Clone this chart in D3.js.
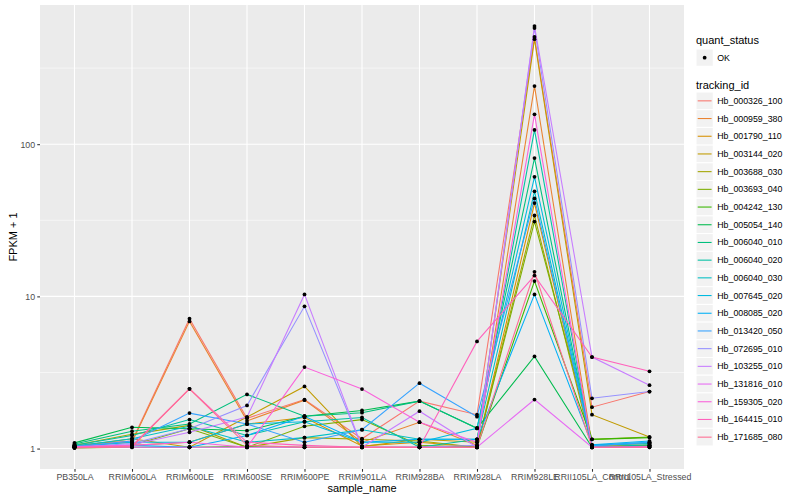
<!DOCTYPE html>
<html>
<head>
<meta charset="utf-8">
<script src="https://cdn.jsdelivr.net/npm/d3@7"></script>
<style>
  body { margin: 0; background: #fff; }
  svg text { font-family: "Liberation Sans", Arial, sans-serif; }
</style>
</head>
<body>
<div id="container"></div>
<script>
// samples on the x axis
const samples = ["PB350LA", "RRIM600LA", "RRIM600LE", "RRIM600SE", "RRIM600PE", "RRIM901LA",
  "RRIM928BA", "RRIM928LA", "RRIM928LE", "RRII105LA_Control", "RRII105LA_Stressed"];

// genes (tracking_id)
const trackingIds = ["Hb_000326_100", "Hb_000959_380", "Hb_001790_110", "Hb_003144_020",
  "Hb_003688_030", "Hb_003693_040", "Hb_004242_130", "Hb_005054_140", "Hb_006040_010",
  "Hb_006040_020", "Hb_006040_030", "Hb_007645_020", "Hb_008085_020", "Hb_013420_050",
  "Hb_072695_010", "Hb_103255_010", "Hb_131816_010", "Hb_159305_020", "Hb_164415_010",
  "Hb_171685_080"];

// FPKM + 1, one row per gene, one value per sample
const fpkm = [
  [1.06, 1.12, 7.13, 1.58, 2.10, 1.16, 2.05, 1.67, 506, 1.87, 2.37],
  [1.04, 1.10, 6.85, 1.52, 2.08, 1.10, 1.49, 1.05, 241, 1.05, 1.08],
  [1.02, 1.05, 1.10, 1.45, 1.60, 1.04, 1.10, 1.02, 41, 1.04, 1.05],
  [1.03, 1.16, 1.02, 1.61, 2.56, 1.03, 1.15, 1.10, 490, 1.67, 1.19],
  [1.05, 1.24, 1.42, 1.02, 1.18, 1.15, 1.12, 1.02, 34, 1.02, 1.05],
  [1.02, 1.05, 1.35, 1.02, 1.40, 1.55, 1.05, 1.02, 31, 1.15, 1.19],
  [1.01, 1.02, 1.02, 1.03, 1.02, 1.02, 1.02, 1.02, 12.6, 1.15, 1.18],
  [1.09, 1.38, 1.35, 1.31, 1.63, 1.78, 2.05, 1.36, 4.03, 1.02, 1.03],
  [1.07, 1.30, 1.45, 2.27, 1.63, 1.72, 2.05, 1.36, 81, 1.02, 1.04],
  [1.05, 1.22, 1.55, 1.22, 1.50, 1.60, 1.02, 1.15, 124, 1.02, 1.06],
  [1.04, 1.16, 1.40, 1.10, 1.18, 1.33, 1.15, 1.15, 49, 1.05, 1.08],
  [1.03, 1.10, 1.10, 1.45, 1.50, 1.10, 1.10, 1.36, 61, 1.05, 1.10],
  [1.02, 1.05, 1.02, 1.22, 1.63, 1.10, 1.15, 1.15, 10.3, 1.06, 1.12],
  [1.03, 1.12, 1.71, 1.45, 1.10, 1.33, 2.69, 1.62, 44, 1.04, 1.10],
  [1.02, 1.08, 1.35, 1.92, 8.6, 1.02, 1.02, 1.05, 580, 2.14, 2.37],
  [1.02, 1.06, 1.28, 1.61, 10.3, 1.02, 1.76, 1.02, 597, 3.99, 2.61],
  [1.02, 1.02, 1.02, 1.02, 1.02, 1.02, 1.02, 1.02, 2.1, 1.02, 1.02],
  [1.03, 1.05, 1.10, 1.02, 3.43, 2.46, 1.49, 1.10, 157, 1.02, 1.03],
  [1.02, 1.04, 2.47, 1.10, 1.05, 1.02, 1.02, 5.06, 13.7, 3.99, 3.22],
  [1.01, 1.03, 2.47, 1.05, 1.02, 1.02, 1.02, 1.02, 14.5, 1.02, 1.02]
];

const yTicks = [1, 10, 100];
const yMinor = [Math.sqrt(10), Math.sqrt(1000), Math.sqrt(100000)];

// ggplot hue palette
const colors = ["#F8766D", "#EA8331", "#D89000", "#C09B00", "#A3A500", "#7CAE00", "#39B600",
  "#00BB4E", "#00BF7D", "#00C1A3", "#00BFC4", "#00BAE0", "#00B0F6", "#35A2FF", "#9590FF",
  "#C77CFF", "#E76BF3", "#FA62DB", "#FF62BC", "#FF6C91"];

const width = 800, height = 500;
const panel = {left: 40, right: 684, top: 5, bottom: 469};

const svg = d3.select("#container").append("svg")
  .attr("width", width)
  .attr("height", height);

const x = d3.scalePoint()
  .domain(samples)
  .range([panel.left, panel.right])
  .padding(0.6);

// log scale with 5% expansion like ggplot
const allVals = fpkm.flat();
const lo = Math.log10(d3.min(allVals)), hi = Math.log10(d3.max(allVals));
const pad = (hi - lo) * 0.05;
const y = d3.scaleLog()
  .domain([Math.pow(10, lo - pad), Math.pow(10, hi + pad)])
  .range([panel.bottom, panel.top]);

// panel background
svg.append("rect")
  .attr("x", panel.left).attr("y", panel.top)
  .attr("width", panel.right - panel.left).attr("height", panel.bottom - panel.top)
  .attr("fill", "#EBEBEB");

// grid
svg.append("g").selectAll("line").data(yMinor).join("line")
  .attr("x1", panel.left).attr("x2", panel.right)
  .attr("y1", d => y(d)).attr("y2", d => y(d))
  .attr("stroke", "#fff").attr("stroke-width", 0.55);
svg.append("g").selectAll("line").data(yTicks).join("line")
  .attr("x1", panel.left).attr("x2", panel.right)
  .attr("y1", d => y(d)).attr("y2", d => y(d))
  .attr("stroke", "#fff").attr("stroke-width", 1.1);
svg.append("g").selectAll("line").data(samples).join("line")
  .attr("x1", d => x(d)).attr("x2", d => x(d))
  .attr("y1", panel.top).attr("y2", panel.bottom)
  .attr("stroke", "#fff").attr("stroke-width", 1.1);

// lines
const line = d3.line()
  .x((d, i) => x(samples[i]))
  .y(d => y(d));

svg.append("g").selectAll("path").data(fpkm).join("path")
  .attr("d", d => line(d))
  .attr("fill", "none")
  .attr("stroke", (d, i) => colors[i])
  .attr("stroke-width", 1.07);

// points
const pts = [];
fpkm.forEach((row, g) => row.forEach((v, s) => pts.push({g: g, s: samples[s], v: v})));
svg.append("g").selectAll("circle").data(pts).join("circle")
  .attr("cx", d => x(d.s))
  .attr("cy", d => y(d.v))
  .attr("r", 1.9)
  .attr("fill", "#000");

// axes
const xAxis = svg.append("g")
  .attr("transform", `translate(0,${panel.bottom})`)
  .call(d3.axisBottom(x).tickSize(2.75).tickPadding(2.2).tickSizeOuter(0));
const yAxis = svg.append("g")
  .attr("transform", `translate(${panel.left},0)`)
  .call(d3.axisLeft(y).tickValues(yTicks).tickFormat(d3.format("d")).tickSize(2.75).tickPadding(2.2).tickSizeOuter(0));
[xAxis, yAxis].forEach(a => {
  a.select(".domain").remove();
  a.selectAll(".tick line").attr("stroke", "#333").attr("stroke-width", 1.07);
  a.selectAll(".tick text").attr("fill", "#4D4D4D").style("font-size", "8.8px");
});

// axis titles
svg.append("text")
  .attr("x", (panel.left + panel.right) / 2).attr("y", 492)
  .attr("text-anchor", "middle").style("font-size", "11px")
  .text("sample_name");
svg.append("text")
  .attr("transform", `translate(17,${(panel.top + panel.bottom) / 2}) rotate(-90)`)
  .attr("text-anchor", "middle").style("font-size", "11px")
  .text("FPKM + 1");

// legends
const lg = svg.append("g").attr("transform", "translate(696,0)");
const keyW = 17.28, keyH = 17.7;

lg.append("text").attr("x", 0).attr("y", 44).style("font-size", "11px").text("quant_status");
lg.append("rect").attr("x", 0).attr("y", 49).attr("width", keyW).attr("height", keyW)
  .attr("fill", "#F2F2F2").attr("stroke", "#fff");
lg.append("circle").attr("cx", keyW / 2).attr("cy", 49 + keyW / 2).attr("r", 1.9).attr("fill", "#000");
lg.append("text").attr("x", keyW + 4).attr("y", 49 + keyW / 2 + 3).style("font-size", "8.8px").text("OK");

lg.append("text").attr("x", 0).attr("y", 89).style("font-size", "11px").text("tracking_id");
const keys = lg.append("g").attr("transform", "translate(0,92)")
  .selectAll("g").data(trackingIds).join("g")
  .attr("transform", (d, i) => `translate(0,${i * keyH})`);
keys.append("rect").attr("width", keyW).attr("height", keyH)
  .attr("fill", "#F2F2F2").attr("stroke", "#fff");
keys.append("line").attr("x1", 1.7).attr("x2", keyW - 1.7)
  .attr("y1", keyH / 2).attr("y2", keyH / 2)
  .attr("stroke", (d, i) => colors[i]).attr("stroke-width", 1.07);
keys.append("text").attr("x", keyW + 4).attr("y", keyH / 2 + 3)
  .style("font-size", "8.8px").attr("fill", "#000").text(d => d);
</script>
</body>
</html>
